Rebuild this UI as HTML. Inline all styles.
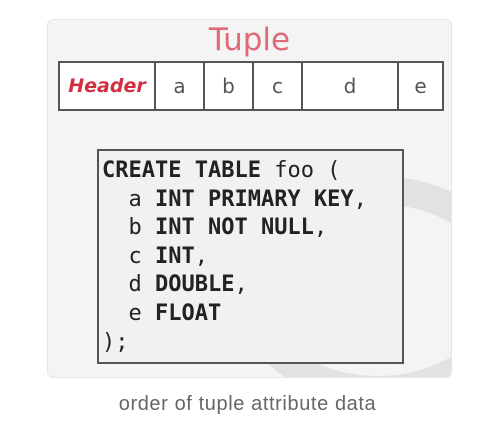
<!DOCTYPE html>
<html><head><style>
body{margin:0;width:495px;height:436px;background:#fff;position:relative;overflow:hidden;font-family:"Liberation Sans",sans-serif}
.card{position:absolute;left:47px;top:19px;width:403px;height:357px;background:#f4f4f4;border:1px solid #e6e6e6;border-radius:6px;overflow:hidden}
.title{position:absolute;left:0;width:100%;top:2px;text-align:center;color:#e06a78;font-size:31px;font-family:"DejaVu Sans",sans-serif}
.row{position:absolute;left:10px;top:41px;width:382px;height:46px;border:2px solid #555;background:#fff;display:flex}
.row div{border-right:2px solid #555;display:flex;align-items:center;justify-content:center;font-family:"DejaVu Sans",sans-serif;font-size:20px;color:#555}
.row div:last-child{border-right:none}
.code{position:absolute;left:49px;top:129px;width:307px;height:215px;border:2px solid #555;background:#f1f1f1;font-family:"DejaVu Sans Mono",monospace;font-size:22px;line-height:28.6px;color:#222;padding:6px 0 0 3px;box-sizing:border-box;white-space:pre}
.code b{font-weight:bold}
.cap{position:absolute;top:393px;width:100%;text-align:center;color:#666;font-size:20px;letter-spacing:0.6px}
</style></head><body>
<div class="card">
<svg width="403" height="357" style="position:absolute;left:0;top:0">
<ellipse cx="330" cy="270" rx="130" ry="100" fill="none" stroke="#e2e2e2" stroke-width="28"/>
</svg>
<div class="title">Tuple</div>
<div class="row">
<div style="width:94px;color:#d23040;font-weight:bold;font-style:italic;font-size:19px">Header</div>
<div style="width:47px">a</div>
<div style="width:47px">b</div>
<div style="width:47px">c</div>
<div style="width:94px">d</div>
<div style="flex:1">e</div>
</div>
<div class="code"><b>CREATE TABLE</b> foo (
  a <b>INT PRIMARY KEY</b>,
  b <b>INT NOT NULL</b>,
  c <b>INT</b>,
  d <b>DOUBLE</b>,
  e <b>FLOAT</b>
);</div>
</div>
<div class="cap">order of tuple attribute data</div>
</body></html>
